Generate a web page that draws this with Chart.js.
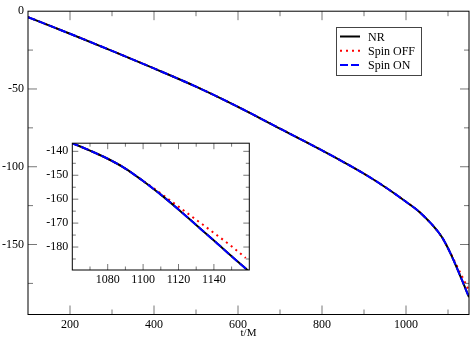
<!DOCTYPE html>
<html>
<head>
<meta charset="utf-8">
<script src="https://cdn.jsdelivr.net/npm/chart.js@4"></script>
<style>
  body { margin:0; background:#fff; }
  #wrap { position:relative; width:471px; height:342px; }
  #main { position:absolute; left:0; top:0; }
  #inset { position:absolute; left:36px; top:132px; }
</style>
</head>
<body>
<div id="wrap">
  <canvas id="main" width="471" height="342"></canvas>
  <canvas id="inset" width="218" height="162"></canvas>
</div>
<script>
// Data (t/M vs value)
const tNR = [100, 200, 300, 400, 500, 600, 700, 800, 900, 950, 1000, 1030, 1060, 1070, 1080, 1090, 1100, 1105, 1110, 1120, 1130, 1140, 1150, 1160];
const nrVals = [-3.8, -14.5, -25.5, -36.8, -48.5, -61.5, -75.5, -89.5, -104.5, -113, -122.5, -128.6, -136.6, -139.7, -143.1, -147.2, -152.4, -155.2, -158.1, -164.3, -170.8, -177.3, -183.9, -190.3];

const tSpinOn = [100, 200, 300, 400, 500, 600, 700, 800, 900, 950, 1000, 1030, 1060, 1070, 1080, 1090, 1100, 1105, 1110, 1120, 1130, 1140, 1150, 1160];
const spinOnVals = [-3.8, -14.5, -25.5, -36.8, -48.5, -61.5, -75.5, -89.5, -104.5, -113, -122.5, -128.6, -136.6, -139.7, -143.1, -147.2, -152.4, -155.2, -158.1, -164.3, -170.8, -177.3, -183.9, -190.3];

const tSpinOff = [100, 200, 300, 400, 500, 600, 700, 800, 900, 950, 1000, 1030, 1060, 1070, 1080, 1090, 1100, 1105, 1110, 1120, 1130, 1140, 1150, 1158];
const spinOffVals = [-3.8, -14.5, -25.5, -36.8, -48.5, -61.5, -75.5, -89.5, -104.5, -113, -122.5, -128.6, -136.6, -139.7, -143.1, -147.2, -152.4, -154.9, -157.6, -163.1, -168.6, -174.1, -179.7, -184.6];

const seriesNames = ['NR', 'Spin OFF', 'Spin ON'];

const serif = "'Liberation Serif', 'Times New Roman', serif";
Chart.defaults.font.family = serif;
Chart.defaults.font.size = 12;
Chart.defaults.color = '#000';

function pts(xs, ys) {
  return xs.map((x, i) => ({ x: x, y: ys[i] }));
}

function makeDatasets() {
  return [
    { label: seriesNames[0], data: pts(tNR, nrVals), borderColor: '#000', borderWidth: 2, order: 2 },
    { label: seriesNames[1], data: pts(tSpinOff, spinOffVals), borderColor: '#ff0000', borderWidth: 2, borderDash: [2, 4], order: 3 },
    { label: seriesNames[2], data: pts(tSpinOn, spinOnVals), borderColor: '#0000ff', borderWidth: 2, borderDash: [8, 3], order: 1 }
  ];
}

// рамка и внутренние засечки на всех четырёх сторонах
function frameTicks(o) {
  return {
    id: 'frameTicks',
    afterDatasetsDraw(chart) {
      const ctx = chart.ctx, a = chart.chartArea;
      const x = chart.scales.x, y = chart.scales.y;
      ctx.save();
      ctx.strokeStyle = '#777';
      ctx.lineWidth = 1;
      ctx.beginPath();
      for (let v = Math.ceil(x.min / o.xMinor) * o.xMinor; v <= x.max; v += o.xMinor) {
        const px = x.getPixelForValue(v);
        if (px <= a.left + 1 || px >= a.right - 1) continue;
        const len = v % o.xMajor === 0 ? o.majLen : o.minLen;
        ctx.moveTo(px, a.bottom); ctx.lineTo(px, a.bottom - len);
        ctx.moveTo(px, a.top); ctx.lineTo(px, a.top + len);
      }
      for (let v = Math.ceil(y.min / o.yMinor) * o.yMinor; v <= y.max; v += o.yMinor) {
        const py = y.getPixelForValue(v);
        if (py <= a.top + 1 || py >= a.bottom - 1) continue;
        const len = v % o.yMajor === 0 ? o.majLen : o.minLen;
        ctx.moveTo(a.left, py); ctx.lineTo(a.left + len, py);
        ctx.moveTo(a.right, py); ctx.lineTo(a.right - len, py);
      }
      ctx.stroke();
      ctx.strokeStyle = '#000';
      ctx.strokeRect(a.left, a.top, a.right - a.left, a.bottom - a.top);
      ctx.restore();
    }
  };
}

// Легенда в рамке
const legendBox = {
  id: 'legendBox',
  afterDraw(chart) {
    const ctx = chart.ctx;
    ctx.save();
    ctx.fillStyle = '#fff';
    ctx.fillRect(336.5, 27.5, 85, 48);
    ctx.strokeStyle = '#444';
    ctx.lineWidth = 1;
    ctx.strokeRect(336.5, 27.5, 85, 48);
    ctx.font = '12px ' + serif;
    ctx.textBaseline = 'middle';
    chart.data.datasets.forEach((ds, i) => {
      const yy = 36.5 + i * 14.2;
      ctx.strokeStyle = ds.borderColor;
      ctx.lineWidth = 2;
      ctx.setLineDash(ds.borderDash || []);
      ctx.beginPath();
      ctx.moveTo(340, yy); ctx.lineTo(360, yy);
      ctx.stroke();
      ctx.setLineDash([]);
      ctx.fillStyle = '#000';
      ctx.fillText(ds.label, 368, yy + 1);
    });
    ctx.restore();
  }
};

const commonLine = { pointRadius: 0, fill: false, cubicInterpolationMode: 'monotone' };
const tickFont = { family: serif, size: 12 };

new Chart(document.getElementById('main'), {
  type: 'line',
  data: { datasets: makeDatasets() },
  options: {
    responsive: false,
    animation: false,
    events: [],
    elements: { line: commonLine, point: { radius: 0 } },
    layout: { padding: { top: 5, right: 2, left: 0, bottom: 0 } },
    plugins: { legend: { display: false }, tooltip: { enabled: false } },
    scales: {
      x: {
        type: 'linear', min: 100, max: 1150,
        afterFit: s => { s.height = 27.5; },
        grid: { display: false, drawTicks: false },
        border: { display: false },
        ticks: { stepSize: 100, autoSkip: false, maxRotation: 0, padding: 3, includeBounds: false, font: tickFont,
          callback: v => (v % 200 === 0) ? v : '' },
        title: { display: true, text: 't/M', font: { family: serif, size: 11 }, padding: { top: 0, bottom: 2 } }
      },
      y: {
        type: 'linear', min: -195, max: 0,
        afterFit: s => { s.width = 28; },
        grid: { display: false, drawTicks: false },
        border: { display: false },
        ticks: { stepSize: 25, autoSkip: false, padding: 4, includeBounds: false, font: tickFont,
          callback: v => v % 50 === 0 ? v : '' }
      }
    }
  },
  plugins: [frameTicks({ xMajor: 200, xMinor: 100, yMajor: 50, yMinor: 25, majLen: 9, minLen: 5 }), legendBox]
});

// Вставка: увеличенный участок слияния
new Chart(document.getElementById('inset'), {
  type: 'line',
  data: { datasets: makeDatasets() },
  options: {
    responsive: false,
    animation: false,
    events: [],
    elements: { line: commonLine, point: { radius: 0 } },
    layout: { padding: { top: 6.3, right: 4.7, left: 0, bottom: 0 } },
    plugins: { legend: { display: false }, tooltip: { enabled: false } },
    scales: {
      x: {
        type: 'linear', min: 1060, max: 1160,
        afterFit: s => { s.height = 24; },
        grid: { display: false, drawTicks: false },
        border: { display: false },
        ticks: { stepSize: 10, autoSkip: false, maxRotation: 0, padding: 3, includeBounds: false, font: tickFont,
          callback: v => (v % 20 === 0 && v > 1060 && v < 1160) ? v : '' }
      },
      y: {
        type: 'linear', min: -189.6, max: -136.6,
        afterFit: s => { s.width = 36.3; },
        grid: { display: false, drawTicks: false },
        border: { display: false },
        ticks: { stepSize: 5, autoSkip: false, padding: 4, includeBounds: false, font: tickFont,
          callback: v => (Math.abs(v % 10) < 0.01) ? v : '' }
      }
    }
  },
  plugins: [frameTicks({ xMajor: 20, xMinor: 10, yMajor: 10, yMinor: 5, majLen: 6, minLen: 3.5 })]
});
</script>
</body>
</html>
